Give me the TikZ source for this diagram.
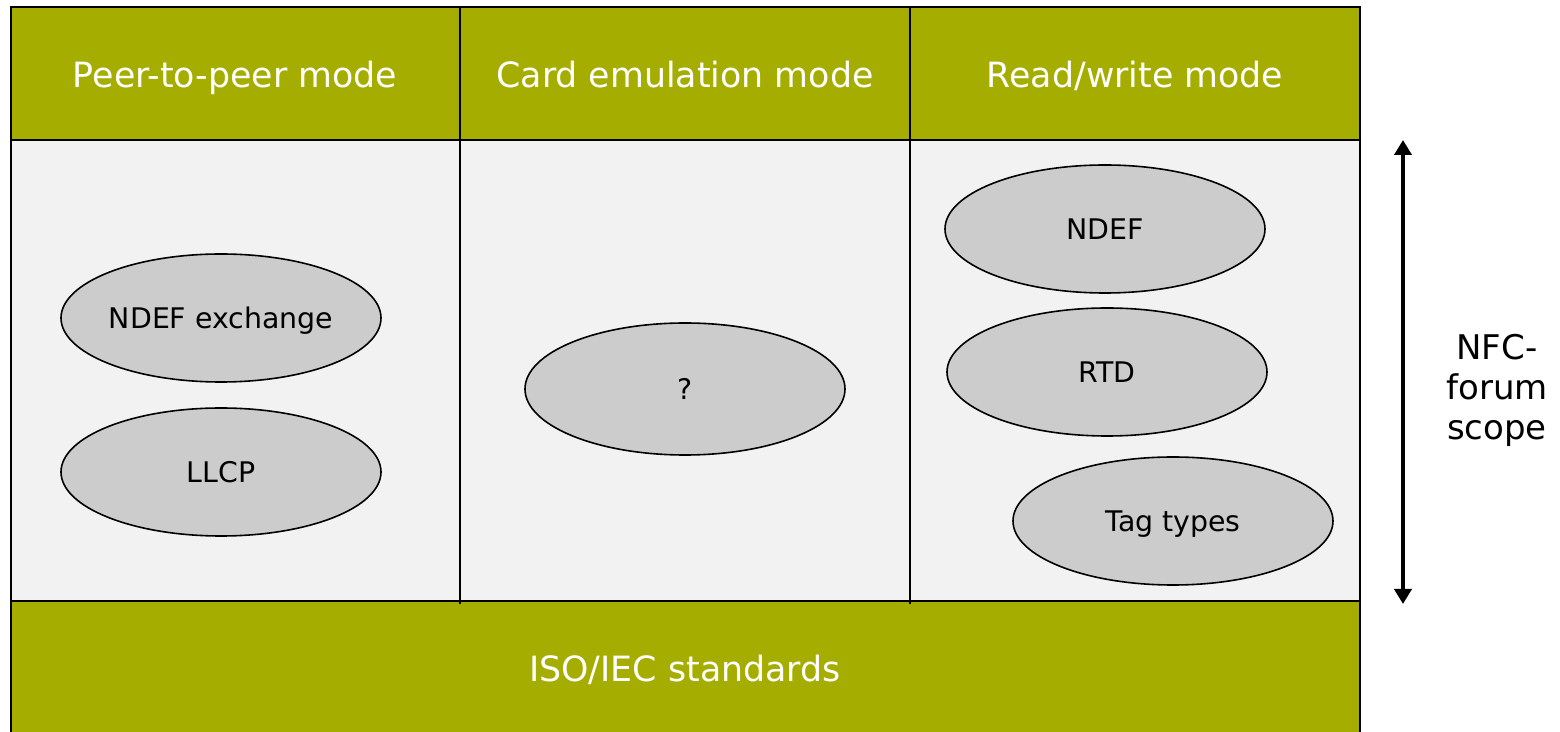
\documentclass[tikz,border=0pt]{standalone}
\usepackage{fontspec}
\setmainfont{DejaVu Sans}
\usetikzlibrary{shapes.geometric,arrows.meta}
\definecolor{olive}{HTML}{A4AD00}
\definecolor{panel}{HTML}{F2F2F2}
\definecolor{oval}{HTML}{CCCCCC}
\tikzset{
  frame/.style={draw=black,line width=1.1pt},
  head/.style={text=white,text height=12.7pt,text depth=0pt,font=\fontsize{17.4}{20}\selectfont},
  bubble/.style={ellipse,draw=black,line width=0.8pt,fill=oval,minimum width=160pt,minimum height=64pt,inner sep=0pt,text height=10.4pt,text depth=0pt,font=\fontsize{14.2}{17}\selectfont},
  scopetxt/.style={align=center,font=\fontsize{17}{20}\selectfont}
}
\begin{document}
\begin{tikzpicture}[x=0.5pt,y=-0.5pt]
\useasboundingbox (0,0) rectangle (1560,732);
% bands and panel
\fill[olive] (11,7) rectangle (1360,140);
\fill[panel] (11,140) rectangle (1360,601);
\fill[olive] (11,601) rectangle (1360,732);
% frame lines
\draw[frame] (11,732) -- (11,7) -- (1360,7) -- (1360,732);
\draw[frame] (11,140) -- (1360,140);
\draw[frame] (11,601) -- (1360,601);
\draw[frame] (460,7) -- (460,604);
\draw[frame] (910,7) -- (910,604);
% headers
\node[head] (h1) at (235,75) {Peer-to-peer mode};
\node[head] (h2) at (685,75) {Card emulation mode};
\node[head] (h3) at (1135,75) {Read/write mode};
\node[head] (iso) at (685,669) {ISO/IEC standards};
% ellipses
\node[bubble] (ndefx) at (221,318) {NDEF exchange};
\node[bubble] (llcp) at (221,472) {LLCP};
\node[bubble,minimum height=66pt] (q) at (685,389) {?};
\node[bubble] (ndef) at (1105,229) {NDEF};
\node[bubble] (rtd) at (1107,372) {RTD};
\node[bubble] (tag) at (1173,521) {Tag types};
% scope arrow
\coordinate (atop) at (1403,140);
\coordinate (abot) at (1403,604);
\draw[line width=2pt,{Triangle[length=7.5pt,width=8.5pt]}-{Triangle[length=7.5pt,width=8.5pt]}] (atop) -- (abot);
\node[scopetxt] (scope) at (1497,390) {NFC-\\forum\\scope};
\end{tikzpicture}
\end{document}
